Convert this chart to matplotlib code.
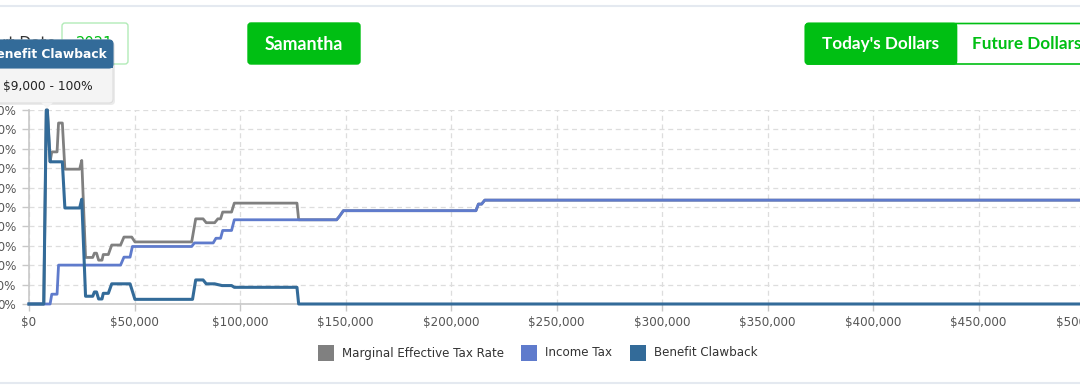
import matplotlib
matplotlib.use("Agg")
import matplotlib.pyplot as plt
from matplotlib.patches import FancyBboxPatch, Rectangle, Polygon
from matplotlib.ticker import FuncFormatter

# ---------------- data (income in $, rates in %) ----------------
met_x = [0, 7000, 8200, 8700, 10000, 10800, 13300, 14000, 15800, 17000, 24000, 25000,
         26800, 30200, 31000, 32000, 33000, 34600, 35200, 37600, 39200, 43400, 45000,
         48700, 50200, 77100, 79000, 82500, 84000, 88000, 89500, 90800, 91800, 96000,
         97300, 127000, 127800, 145800, 147000, 149000, 211800, 213000, 214500, 216000,
         500000]
met_y = [0, 0, 100, 100, 73.3, 78.4, 78.4, 93.3, 93.3, 69.5, 69.5, 74,
         24, 24, 26.2, 26.2, 22.6, 22.6, 25.5, 25.5, 30.4, 30.4, 34.5,
         34.5, 32, 32, 43.9, 43.9, 41.9, 41.9, 43.9, 43.9, 47.4, 47.4,
         52, 52, 43.41, 43.41, 45.0, 48.1, 48.1, 51.5, 51.5, 53.53,
         53.53]

inc_x = [0, 10000, 10800, 13300, 14000, 43400, 45000, 47900, 49000, 77100, 78400,
         87300, 88600, 90800, 91800, 96000, 97300, 145800, 147000, 149000, 211800,
         213000, 214500, 216000, 500000]
inc_y = [0, 0, 5.05, 5.05, 20.05, 20.05, 24.15, 24.15, 29.65, 29.65, 31.48,
         31.48, 33.89, 33.89, 37.91, 37.91, 43.41, 43.41, 45.0, 48.1, 48.1,
         51.5, 51.5, 53.53, 53.53]

cb_x = [0, 7000, 8200, 8700, 10000, 15800, 17000, 24000, 25000, 26800, 30200, 31000,
        32000, 33000, 34600, 35200, 37600, 39200, 47900, 50200, 77500, 79000, 82500,
        84000, 88000, 89500, 91500, 96000, 97300, 127000, 127800, 500000]
cb_y = [0, 0, 100, 100, 73.3, 73.3, 49.5, 49.5, 54, 4, 4, 6.2,
        6.2, 2.6, 2.6, 5.5, 5.5, 10.4, 10.4, 2.4, 2.4, 12.4, 12.4,
        10.4, 10.4, 10.0, 9.5, 9.5, 8.6, 8.6, 0, 0]

series_names = ["Marginal Effective Tax Rate", "Income Tax", "Benefit Clawback"]
series_colors = ["#808080", "#5f7bcc", "#336b99"]

x_ticks = [0, 50000, 100000, 150000, 200000, 250000, 300000, 350000, 400000, 450000, 500000]
y_ticks = [0, 10, 20, 30, 40, 50, 60, 70, 80, 90, 100]

tooltip_title = "Benefit Clawback"
tooltip_text = "$9,000 - 100%"

# ---------------- figure ----------------
W, H = 1080, 389
fig = plt.figure(figsize=(W / 100, H / 100), dpi=100)
fig.patch.set_facecolor("white")

def fx(px):
    return px / W

def fy(py):
    return 1 - py / H

# main axes: $0 at px 29, $500k at px 1084; 0% at py 304, 100% at py 110
left, right, top, bottom = 29, 1084, 110, 304
ax = fig.add_axes([fx(left), fy(bottom), (right - left) / W, (bottom - top) / H])
ax.set_xlim(0, 500000)
ax.set_ylim(0, 100)

ax.plot(met_x, met_y, color=series_colors[0], lw=2.0, zorder=3, clip_on=False)
ax.plot(inc_x, inc_y, color=series_colors[1], lw=2.0, zorder=4, clip_on=False)
ax.plot(cb_x, cb_y, color=series_colors[2], lw=2.2, zorder=5, clip_on=False)

ax.set_xticks(x_ticks)
ax.set_yticks(y_ticks)
ax.xaxis.set_major_formatter(FuncFormatter(lambda v, p: "${:,.0f}".format(v)))
ax.yaxis.set_major_formatter(FuncFormatter(lambda v, p: "{:.0f}%".format(v)))
ax.grid(True, color="#dddddd", linestyle=(0, (4, 3)), linewidth=0.9, zorder=1)
ax.set_axisbelow(True)
for s in ["top", "right"]:
    ax.spines[s].set_visible(False)
for s in ["left", "bottom"]:
    ax.spines[s].set_color("#c8c8c8")
    ax.spines[s].set_linewidth(1.2)
ax.tick_params(axis="both", colors="#c8c8c8", length=5, width=1,
               labelcolor="#555555", labelsize=8.6)
ax.tick_params(axis="y", pad=4)
ax.tick_params(axis="x", pad=4)
ax.set_facecolor("none")

# ---------------- overlay (pixel coordinates) ----------------
ov = fig.add_axes([0, 0, 1, 1], zorder=10)
ov.set_xlim(0, W)
ov.set_ylim(H, 0)
ov.axis("off")
ov.patch.set_alpha(0)

# top & bottom border lines
ov.plot([0, W], [6, 6], color="#e4e9f0", lw=1.5, zorder=1)
ov.plot([0, W], [382.5, 382.5], color="#e4e9f0", lw=1.5, zorder=1)

green = "#00bf13"

# "Start Date" label (cut on left, mostly hidden by tooltip)
ov.text(56, 43, "Start Date", ha="right", va="center", fontsize=11, color="#333333",
        family="DejaVu Sans", zorder=1)
# year input box
ov.add_patch(FancyBboxPatch((62, 23), 66, 41, boxstyle="round,pad=0,rounding_size=3",
                            facecolor="white", edgecolor="#b2ebb8", lw=1, zorder=0.5))
ov.text(95, 43, "2021", ha="center", va="center", fontsize=10.5, color=green, zorder=1)

# Samantha button
ov.add_patch(FancyBboxPatch((248, 23), 112, 41, boxstyle="round,pad=0,rounding_size=3",
                            facecolor=green, edgecolor=green, lw=1, zorder=1))
ov.text(304, 44, "Samantha", ha="center", va="center", fontsize=12.8,
        fontweight="bold", color="white", family="Lato", zorder=2)

# Today's / Future Dollars toggle
ov.add_patch(FancyBboxPatch((805.5, 23.5), 300, 40.5, boxstyle="round,pad=0,rounding_size=3",
                            facecolor="white", edgecolor=green, lw=1.2, zorder=1))
ov.add_patch(FancyBboxPatch((805.5, 23.5), 151, 40.5, boxstyle="round,pad=0,rounding_size=3",
                            facecolor=green, edgecolor=green, lw=1.2, zorder=1.1))
ov.add_patch(Rectangle((945, 23.5), 11.5, 40.5, facecolor=green, edgecolor="none", zorder=1.2))
ov.text(880.5, 44, "Today's Dollars", ha="center", va="center", fontsize=12.3,
        fontweight="bold", color="white", family="Lato", zorder=2)
ov.text(972, 44, "Future Dollars", ha="left", va="center", fontsize=12.3,
        fontweight="bold", color=green, family="Lato", zorder=2)

# tooltip
ov.add_patch(FancyBboxPatch((-20, 42), 135, 63, boxstyle="round,pad=0,rounding_size=4",
                            facecolor="#000000", alpha=0.08, edgecolor="none", zorder=5))
ov.add_patch(FancyBboxPatch((-20, 40), 133, 63, boxstyle="round,pad=0,rounding_size=4",
                            facecolor="#f4f4f4", edgecolor="#dddddd", lw=0.8, zorder=5.1))
ov.add_patch(FancyBboxPatch((-20, 40), 133, 28, boxstyle="round,pad=0,rounding_size=4",
                            facecolor="#336b99", edgecolor="#336b99", lw=0.8, zorder=5.2))
ov.add_patch(Rectangle((-20, 60), 133, 8, facecolor="#336b99", edgecolor="none", zorder=5.3))
ov.add_patch(Polygon([[41, 102.5], [53, 102.5], [47, 108.5]], closed=True,
                     facecolor="#f4f4f4", edgecolor="none", zorder=5.4))
ov.text(107, 54.5, tooltip_title, ha="right", va="center", fontsize=8.8,
        fontweight="bold", color="white", family="DejaVu Sans", zorder=6)
ov.text(3, 86, tooltip_text, ha="left", va="center", fontsize=8.8,
        color="#222222", family="DejaVu Sans", zorder=6)

# legend
leg_items = [(318, 342), (521, 545), (630, 654)]
for (sx, tx), name, col in zip(leg_items, series_names, series_colors):
    ov.add_patch(Rectangle((sx, 345), 16, 16, facecolor=col, edgecolor="none"))
    ov.text(tx, 353, name, ha="left", va="center", fontsize=8.6, color="#333333",
            family="DejaVu Sans")

fig.savefig("out.png", dpi=100)
